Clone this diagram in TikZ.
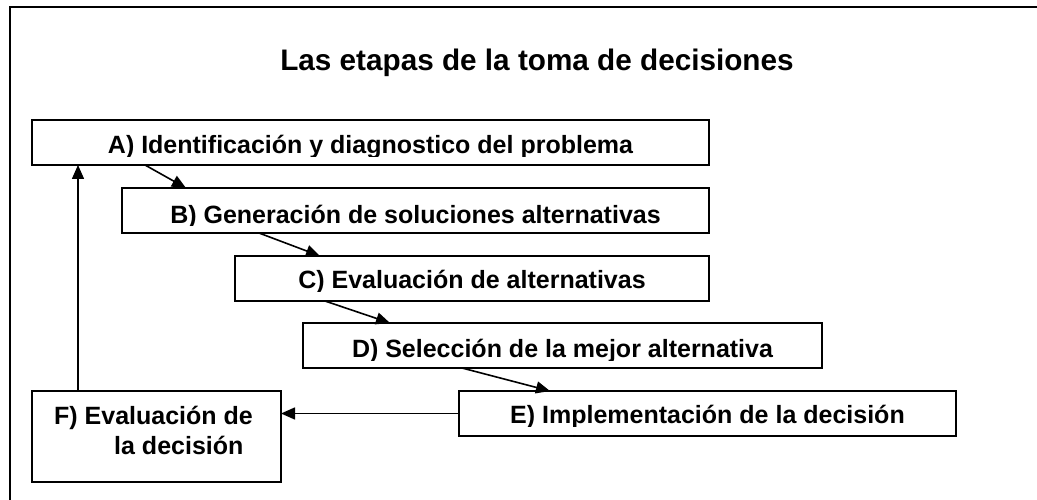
\documentclass[tikz,border=0pt]{standalone}
\usepackage{fontspec}
\setmainfont{Liberation Sans}
\usetikzlibrary{arrows.meta,calc}
\tikzset{
  stagebox/.style={draw=black, line width=2pt, anchor=north west, inner sep=0pt, outer sep=0pt},
  stagetext/.style={anchor=base, inner sep=0pt, font=\fontsize{25}{30}\selectfont\bfseries},
  conn/.style={draw=black, line width=1.6pt, -{Triangle[length=14pt,width=12pt]}},
  frameline/.style={draw=black, line width=2pt}
}
\begin{document}
\begin{tikzpicture}[x=1pt,y=-1pt]
\useasboundingbox (0,0) rectangle (1037,500);
% outer frame (only top and left visible)
\draw[frameline] (1037,7) -- (10,7) -- (10,500);
% title
\node[anchor=base, inner sep=0pt, font=\fontsize{29.7}{34}\selectfont\bfseries] (title) at (537,71) {Las etapas de la toma de decisiones};
% boxes
\node[stagebox, minimum width=677pt, minimum height=45pt] (A) at (32,120) {};
\node[stagebox, minimum width=587pt, minimum height=45pt] (B) at (122,188) {};
\node[stagebox, minimum width=474pt, minimum height=45pt] (C) at (235,256) {};
\node[stagebox, minimum width=519pt, minimum height=45pt] (D) at (303,323) {};
\node[stagebox, minimum width=497pt, minimum height=45pt] (E) at (459,391) {};
\node[stagebox, minimum width=249pt, minimum height=91pt] (F) at (32,391) {};
% texts (clipped just below the baseline as in the picture)
\begin{scope}
  \clip (32,120) rectangle (709,157);
  \node[stagetext] (At) at (370.5,154) {A) Identificación y diagnostico del problema};
\end{scope}
\begin{scope}
  \clip (122,188) rectangle (709,226);
  \node[stagetext] (Bt) at (415.5,223) {B) Generación de soluciones alternativas};
\end{scope}
\begin{scope}
  \clip (235,256) rectangle (709,291);
  \node[stagetext] (Ct) at (472,288) {C) Evaluación de alternativas};
\end{scope}
\begin{scope}
  \clip (303,323) rectangle (822,360);
  \node[stagetext] (Dt) at (562.5,357) {D) Selección de la mejor alternativa};
\end{scope}
\begin{scope}
  \clip (459,391) rectangle (956,426);
  \node[stagetext] (Et) at (707.5,423) {E) Implementación de la decisión};
\end{scope}
\node[stagetext, anchor=base west] (Ft1) at (54,424) {F) Evaluación de};
\node[stagetext, anchor=base west] (Ft2) at (114,454) {la decisión};
% connectors
\draw[conn] ([xshift=113pt]A.south west) -- ([xshift=64pt]B.north west);
\draw[conn] ([xshift=137pt]B.south west) -- ([xshift=85pt]C.north west);
\draw[conn] ([xshift=90pt]C.south west) -- ([xshift=87pt]D.north west);
\draw[conn] ([xshift=159pt]D.south west) -- ([xshift=91pt]E.north west);
\draw[conn] (E.west) -- (E.west -| F.east);
\draw[conn] ([xshift=46pt]F.north west) -- ([xshift=46pt]F.north west |- A.south);
\end{tikzpicture}
\end{document}
